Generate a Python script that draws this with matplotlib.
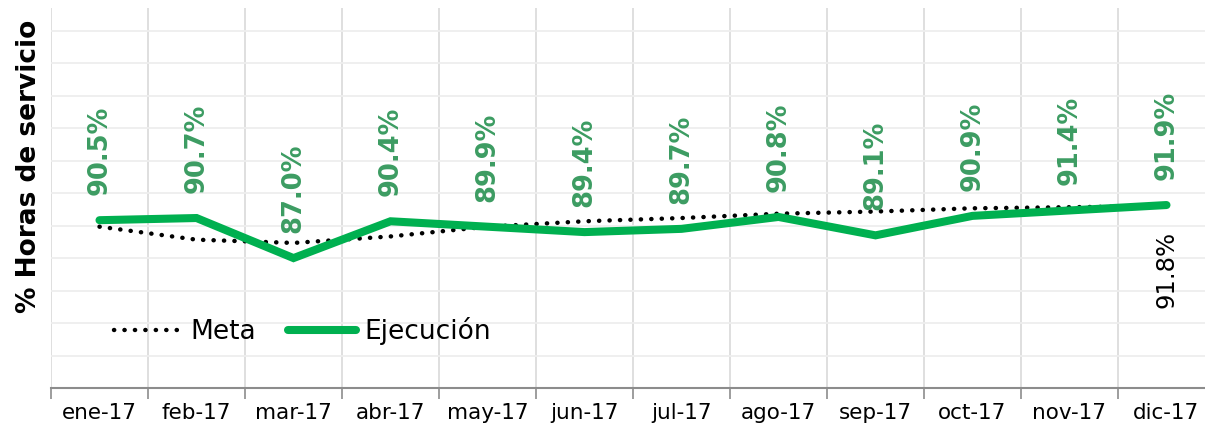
import matplotlib
matplotlib.use("Agg")
import matplotlib.pyplot as plt
from matplotlib.ticker import MultipleLocator, FixedLocator

# Data
meses = ["ene-17", "feb-17", "mar-17", "abr-17", "may-17", "jun-17",
         "jul-17", "ago-17", "sep-17", "oct-17", "nov-17", "dic-17"]
meta = [89.9, 88.7, 88.4, 89.0, 89.9, 90.4, 90.7, 91.1, 91.3, 91.6, 91.7, 91.8]
ejecucion = [90.5, 90.7, 87.0, 90.4, 89.9, 89.4, 89.7, 90.8, 89.1, 90.9, 91.4, 91.9]

verde = "#00b050"
verde_txt = "#3c9c62"

fig = plt.figure(figsize=(12.05, 4.29), dpi=100)
ax = fig.add_axes([51 / 1205, 41 / 429, 1164 / 1205, 380 / 429])

x = list(range(len(meses)))

# Lines
ax.plot(x, meta, color="black", linewidth=3.2, linestyle=(0, (0.05, 2.3)),
        dash_capstyle="round", label="Meta", zorder=3)
ax.plot(x, ejecucion, color=verde, linewidth=5.8, solid_capstyle="round",
        solid_joinstyle="miter", label="Ejecución", zorder=4)

# Data labels
for xi, v in zip(x, ejecucion):
    ax.annotate(f"{v:.1f}%", (xi, v), xytext=(0, 18), textcoords="offset points",
                rotation=90, ha="center", va="bottom", color=verde_txt,
                fontsize=18.5, fontweight="bold")
ax.annotate(f"{meta[-1]:.1f}%", (x[-1], meta[-1]), xytext=(0, -18),
            textcoords="offset points", rotation=90, ha="center", va="top",
            color="black", fontsize=17.5)

# Axes
ax.set_xlim(-0.5, len(meses) - 0.5)
ax.set_ylim(75, 110.1)
ax.set_xticks(x)
ax.set_xticklabels(meses, fontsize=15.5)
ax.xaxis.set_minor_locator(FixedLocator([i - 0.5 for i in range(len(meses) + 1)]))
ax.tick_params(axis="x", which="major", length=0, pad=11)
ax.tick_params(axis="x", which="minor", length=8, width=1.2, color="#8c8c8c")
ax.yaxis.set_major_locator(MultipleLocator(3))
ax.tick_params(axis="y", which="both", left=False, labelleft=False)

ax.grid(axis="y", which="major", color="#eeeeee", linewidth=1.3)
ax.grid(axis="x", which="minor", color="#dcdcdc", linewidth=1.3)
ax.set_axisbelow(True)

for s in ["top", "right", "left"]:
    ax.spines[s].set_visible(False)
ax.spines["bottom"].set_color("#8c8c8c")
ax.spines["bottom"].set_linewidth(1.5)

ax.set_ylabel("% Horas de servicio", fontsize=19, fontweight="bold")
ax.yaxis.set_label_coords(-0.008, 0.583)

ax.legend(loc="lower left", bbox_to_anchor=(0.045, 0.085), ncol=2, frameon=False,
          fontsize=19, handlelength=2.6, handletextpad=0.3, columnspacing=1.2,
          borderaxespad=0)

fig.savefig("out.png", dpi=100)
